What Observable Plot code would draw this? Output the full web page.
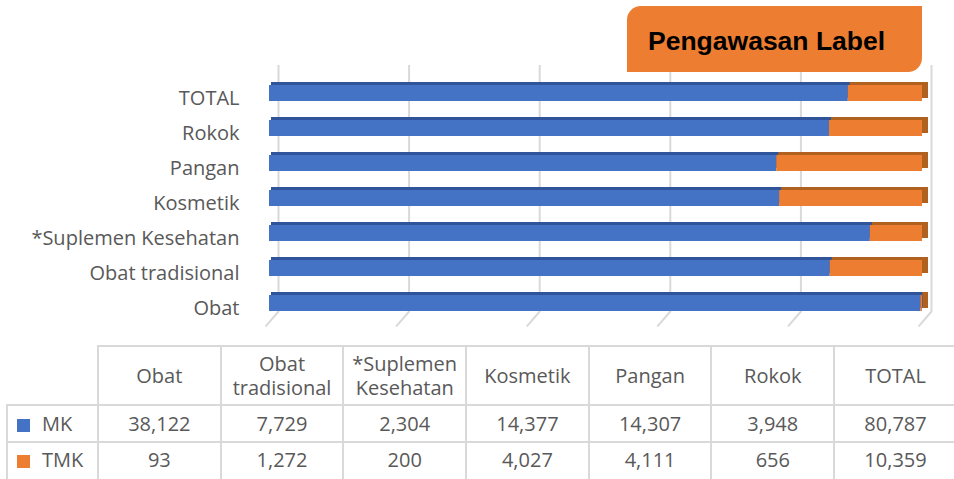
<!DOCTYPE html>
<html>
<head>
<meta charset="utf-8">
<script src="https://cdn.jsdelivr.net/npm/d3@7"></script>
<script src="https://cdn.jsdelivr.net/npm/@observablehq/plot@0.6"></script>
<style>
  html, body { margin: 0; padding: 0; background: #fff; }
  #wrap { position: relative; width: 954px; height: 479px; overflow: hidden; font-family: "Open Sans", sans-serif; color: #595959; }
  #chart { position: absolute; left: 0; top: 0; }
  #title { position: absolute; left: 627px; top: 6px; width: 295px; height: 66px; background: #ED7D31; border-radius: 14px 0 14px 0; }
  #title span { position: absolute; left: 21px; top: 20px; font: bold 26.5px "Liberation Sans", Arial, sans-serif; color: #000; white-space: nowrap; }
  #tbl { position: absolute; left: 6px; top: 345px; border-collapse: collapse; table-layout: fixed; width: 970px; }
  #tbl td { border: 2px solid #d9d9d9; text-align: center; vertical-align: middle; font-size: 20px; line-height: 24px; padding: 0 2px; color: #595959; }
  #tbl tr.head td { height: 57px; }
  #tbl tr.row td { height: 35px; }
  #tbl tr.last td { height: 40px; vertical-align: top; padding-top: 5px; }
  #tbl td.blank { border-top: none; border-left: none; }
  #tbl td.leg { text-align: left; padding-left: 9px; white-space: nowrap; }
  #tbl td.leg i { display: inline-block; width: 13px; height: 13px; margin-right: 12px; vertical-align: -1px; }
  #tbl td.lastcol { padding-right: 22px; }
</style>
</head>
<body>
<div id="wrap">
  <div id="chart"></div>
  <div id="title"><span></span></div>
  <table id="tbl"></table>
</div>
<script>
// ---- data ----
const categories = ["Obat", "Obat tradisional", "*Suplemen Kesehatan", "Kosmetik", "Pangan", "Rokok", "TOTAL"];
const mkValues   = [38122, 7729, 2304, 14377, 14307, 3948, 80787];
const tmkValues  = [93, 1272, 200, 4027, 4111, 656, 10359];
const seriesNames = ["MK", "TMK"];
const gridTicks = [0, 0.2, 0.4, 0.6, 0.8, 1];
const chartTitle = "Pengawasan Label";

// ---- colours ----
const frontColors = ["#4472C4", "#ED7D31"];
const depthColors = ["#30549A", "#B0601F"];
const gridColor = "#d9d9d9";
const textColor = "#595959";

const rows = categories.flatMap((c, i) => [
  {category: c, series: seriesNames[0], value: mkValues[i]},
  {category: c, series: seriesNames[1], value: tmkValues[i]}
]);

const stackOpts = (extra) => Plot.stackX({x: "value", y: "category", offset: "normalize", ...extra});

const chart = Plot.plot({
  width: 954,
  height: 335,
  marginLeft: 269,
  marginRight: 32,
  marginTop: 65,
  marginBottom: 24,
  style: {fontFamily: "'Open Sans', sans-serif", color: textColor, background: "transparent", overflow: "visible"},
  x: {domain: [0, 1], axis: null},
  y: {domain: categories.slice().reverse(), paddingInner: 0.547, paddingOuter: 0.255, align: 1, axis: null},
  color: {
    domain: [...seriesNames, ...seriesNames.map(s => s + " depth")],
    range: [...frontColors, ...depthColors]
  },
  marks: [
    Plot.ruleX(gridTicks, {x: d => d, dx: 9, stroke: gridColor, strokeWidth: 2}),
    Plot.vector(gridTicks, {x: d => d, frameAnchor: "bottom", dx: 9, length: 19, rotate: 221, anchor: "start", r: 0, stroke: gridColor, strokeWidth: 2}),
    Plot.barX(rows, stackOpts({fill: d => d.series + " depth", dx: 6, dy: -3, insetLeft: -4})),
    Plot.barX(rows, stackOpts({fill: "series"})),
    Plot.axisY({anchor: "left", tickSize: 0, tickPadding: 30, dy: 5, fontSize: 20, fill: textColor, label: null})
  ]
});
document.getElementById("chart").appendChild(chart);
document.querySelector("#title span").textContent = chartTitle;

// ---- data table ----
const fmt = d3.format(",");
const tbl = d3.select("#tbl");
const cg = tbl.append("colgroup");
cg.append("col").style("width", "91px");
categories.forEach((c, i) => cg.append("col").style("width", i === categories.length - 1 ? "142.8px" : "122.7px"));
const head = tbl.append("tr").attr("class", "head");
head.append("td").attr("class", "blank");
categories.forEach((c, i) => head.append("td").attr("class", i === categories.length - 1 ? "lastcol" : null).text(c));
[mkValues, tmkValues].forEach((vals, si) => {
  const tr = tbl.append("tr").attr("class", si === 1 ? "row last" : "row");
  const leg = tr.append("td").attr("class", "leg");
  leg.append("i").style("background", frontColors[si]);
  leg.append("span").text(seriesNames[si]);
  vals.forEach((v, i) => tr.append("td").attr("class", i === vals.length - 1 ? "lastcol" : null).text(fmt(v)));
});
</script>
</body>
</html>
